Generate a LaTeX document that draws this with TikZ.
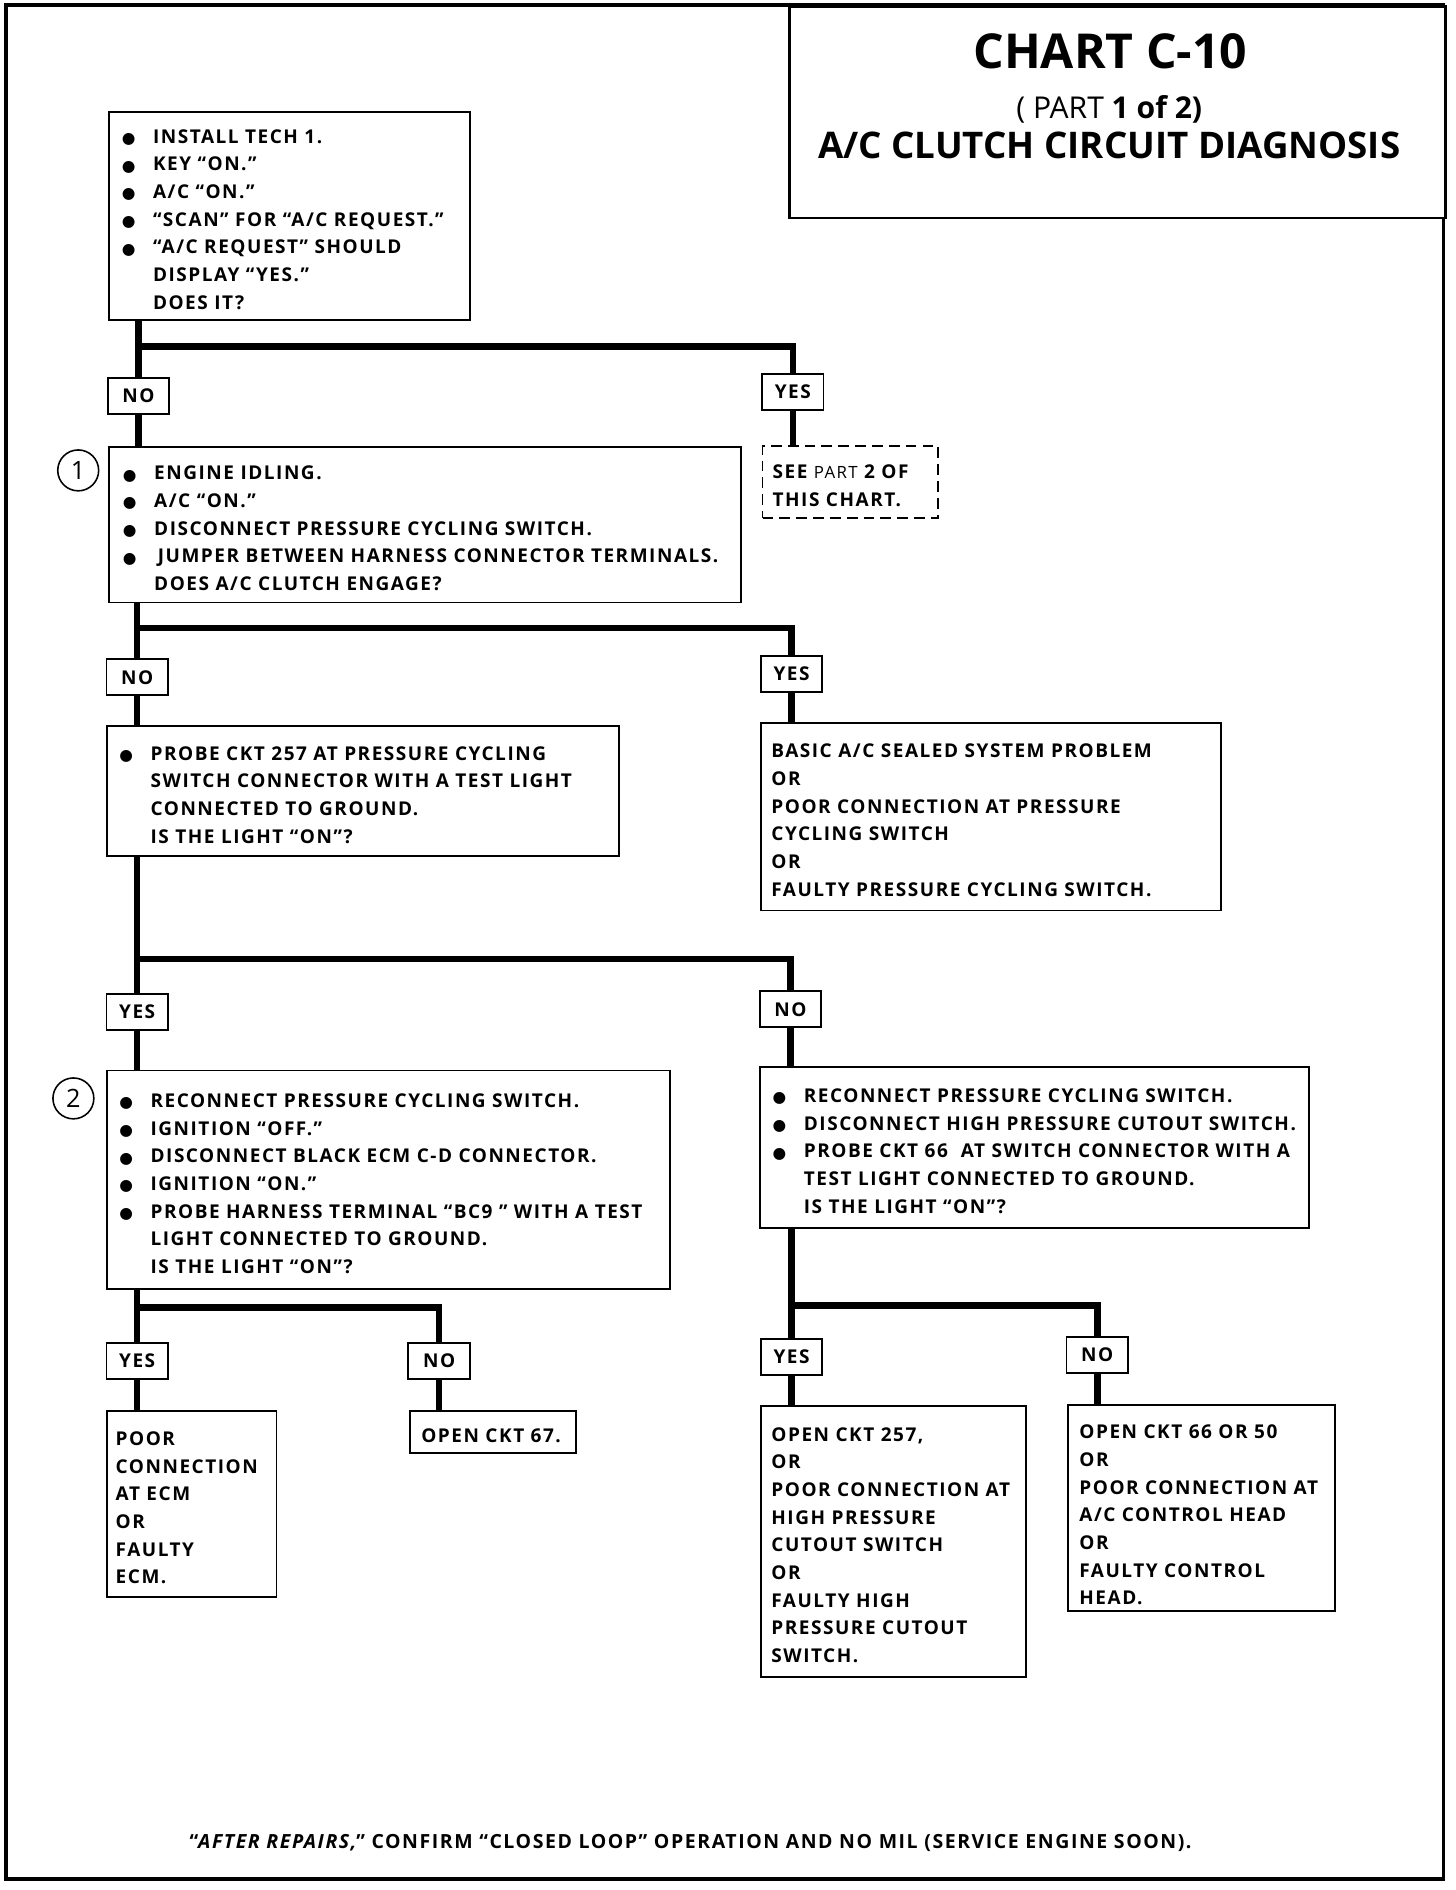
\documentclass[tikz,border=0pt]{standalone}
\usepackage{fontspec}
\setmainfont{Open Sans}
\newfontfamily\bodyfont{Open Sans}[LetterSpace=8]
\newfontfamily\titlefont{Open Sans}
\newfontfamily\dvsym{DejaVu Sans}
\usetikzlibrary{backgrounds}
\newcommand\bulx{\makebox[26pt][l]{\raisebox{-0.3pt}{\dvsym\fontsize{13}{13}\selectfont ●}}}
\newcommand\contind{\hspace*{26pt}}
\begin{document}
\begin{tikzpicture}[x=1pt,y=-1pt,
  box/.style={draw, line width=1.6pt, fill=white, anchor=north west, inner sep=0pt},
  dbox/.style={box, dash pattern=on 9pt off 5pt},
  txt/.style={anchor=west, inner sep=0pt, yshift=-3pt, align=left, font=\bodyfont\bfseries\fontsize{15.8}{23}\selectfont},
  lbl/.style={draw, line width=1.6pt, fill=white, minimum width=51pt, minimum height=30pt, inner sep=0pt, font=\bodyfont\bfseries\fontsize{15.8}{23}\selectfont},
  conn/.style={line width=5.5pt},
  num/.style={circle, draw, line width=1.3pt, minimum size=34pt, inner sep=0pt, font=\titlefont\fontsize{21}{21}\selectfont}]
\useasboundingbox (0,0) rectangle (1210,1571);
% frame and title box
\draw[line width=3pt] (5,4) rectangle (1200,1562);
\node[box, line width=2.4pt, minimum width=545pt, minimum height=176pt] (T) at (655,4) {};
\node[font=\titlefont\bfseries\fontsize{40}{40}\selectfont] (t1) at (923,43) {CHART C-10};
\node[font=\titlefont\fontsize{25}{25}\selectfont] (t2) at (922,91) {( PART {\bfseries 1 of 2)}};
\node[font=\titlefont\bfseries\fontsize{30.5}{30.5}\selectfont] (t3) at (922,121) {A/C CLUTCH CIRCUIT DIAGNOSIS};

% boxes
\node[box, minimum width=300pt, minimum height=173pt] (A) at (90,92) {};
\node[txt] (At) at ([xshift=11pt]A.west) {\bulx INSTALL TECH 1.\\ \bulx KEY “ON.”\\ \bulx A/C “ON.”\\ \bulx “SCAN” FOR “A/C REQUEST.”\\ \bulx “A/C REQUEST” SHOULD\\ \contind DISPLAY “YES.”\\ \contind DOES IT?};

\node[box, minimum width=525pt, minimum height=129pt] (B) at (90,371) {};
\node[txt] (Bt) at ([xshift=12pt]B.west) {\bulx ENGINE IDLING.\\ \bulx A/C “ON.”\\ \bulx DISCONNECT PRESSURE CYCLING SWITCH.\\ \bulx\hspace*{3pt}JUMPER BETWEEN HARNESS CONNECTOR TERMINALS.\\ \contind DOES A/C CLUTCH ENGAGE?};

\node[box, minimum width=426pt, minimum height=108pt] (C) at (88,603) {};
\node[txt] (Ct) at ([xshift=11pt]C.west) {\bulx PROBE CKT 257 AT PRESSURE CYCLING\\ \contind SWITCH CONNECTOR WITH A TEST LIGHT\\ \contind CONNECTED TO GROUND.\\ \contind IS THE LIGHT “ON”?};

\node[box, minimum width=382pt, minimum height=156pt] (D) at (632,600) {};
\node[txt] (Dt) at ([xshift=9pt]D.west) {BASIC A/C SEALED SYSTEM PROBLEM\\ OR\\ POOR CONNECTION AT PRESSURE\\ CYCLING SWITCH\\ OR\\ FAULTY PRESSURE CYCLING SWITCH.};

\node[box, minimum width=468pt, minimum height=182pt] (E) at (88,889) {};
\node[txt] (Et) at ([xshift=11pt]E.west) {\bulx RECONNECT PRESSURE CYCLING SWITCH.\\ \bulx IGNITION “OFF.”\\ \bulx DISCONNECT BLACK ECM C-D CONNECTOR.\\ \bulx IGNITION “ON.”\\ \bulx PROBE HARNESS TERMINAL “BC9 ” WITH A TEST\\ \contind LIGHT CONNECTED TO GROUND.\\ \contind IS THE LIGHT “ON”?};

\node[box, minimum width=456pt, minimum height=134pt] (F) at (631,886) {};
\node[txt] (Ft) at ([xshift=11pt]F.west) {\bulx RECONNECT PRESSURE CYCLING SWITCH.\\ \bulx DISCONNECT HIGH PRESSURE CUTOUT SWITCH.\\ \bulx PROBE CKT 66\ \ AT SWITCH CONNECTOR WITH A\\ \contind TEST LIGHT CONNECTED TO GROUND.\\ \contind IS THE LIGHT “ON”?};

\node[box, minimum width=141pt, minimum height=155pt] (G) at (88,1172) {};
\node[txt] (Gt) at ([xshift=8pt]G.west) {POOR\\ CONNECTION\\ AT ECM\\ OR\\ FAULTY\\ ECM.};

\node[box, minimum width=138pt, minimum height=35pt] (H) at (340,1172) {};
\node[txt] (Ht) at ([xshift=10pt]H.west) {OPEN CKT 67.};

\node[box, minimum width=220pt, minimum height=225pt] (I) at (632,1168) {};
\node[txt] (It) at ([xshift=9pt]I.west) {OPEN CKT 257,\\ OR\\ POOR CONNECTION AT\\ HIGH PRESSURE\\ CUTOUT SWITCH\\ OR\\ FAULTY HIGH\\ PRESSURE CUTOUT\\ SWITCH.};

\node[box, minimum width=222pt, minimum height=171pt] (J) at (887,1167) {};
\node[txt, yshift=-3pt] (Jt) at ([xshift=10pt]J.west) {OPEN CKT 66 OR 50\\ OR\\ POOR CONNECTION AT\\ A/C CONTROL HEAD\\ OR\\ FAULTY CONTROL\\ HEAD.};

\node[dbox, minimum width=146pt, minimum height=60pt] (K) at (633,370) {};
\node[txt] (Kt) at ([xshift=9pt]K.west) {SEE {\mdseries\fontsize{14}{23}\selectfont PART} 2 OF\\ THIS CHART.};

% step numbers
\node[num] (n1) at (65,391) {1};
\node[num] (n2) at (61,913) {2};

% labels
\node[lbl] (NO1) at (115,329) {NO};
\node[lbl] (YES1) at (659,326) {YES};
\node[lbl] (NO2) at (114,563) {NO};
\node[lbl] (YES2) at (658,560) {YES};
\node[lbl] (YES3) at (114,841) {YES};
\node[lbl] (NO3) at (657,839) {NO};
\node[lbl] (YES4) at (114,1131) {YES};
\node[lbl] (NO4) at (365,1131) {NO};
\node[lbl] (YES5) at (658,1128) {YES};
\node[lbl] (NO5) at (912,1126) {NO};

% footer
\node[font=\bodyfont\bfseries\fontsize{16.2}{16.2}\selectfont] (ft) at (574,1532) {“{\itshape AFTER REPAIRS,}” CONFIRM “CLOSED LOOP” OPERATION AND NO MIL (SERVICE ENGINE SOON).};

% connectors
\coordinate (j1) at (115,288);
\coordinate (j2) at (114,522);
\coordinate (j3) at (114,797);
\coordinate (j4) at (114,1087);
\coordinate (j5) at (658,1085);
\begin{scope}[on background layer]
\fill[white] (0,0) rectangle (1210,1571);
\draw[conn] (A.south -| NO1) -- (NO1.north);
\draw[conn] (j1) -| (YES1.north);
\draw[conn] (NO1.south) -- (B.north -| NO1);
\draw[conn] (YES1.south) -- (K.north -| YES1);
\draw[conn] (B.south -| NO2) -- (NO2.north);
\draw[conn] (j2) -| (YES2.north);
\draw[conn] (NO2.south) -- (C.north -| NO2);
\draw[conn] (YES2.south) -- (D.north -| YES2);
\draw[conn] (C.south -| YES3) -- (YES3.north);
\draw[conn] (j3) -| (NO3.north);
\draw[conn] (YES3.south) -- (E.north -| YES3);
\draw[conn] (NO3.south) -- (F.north -| NO3);
\draw[conn] (E.south -| YES4) -- (YES4.north);
\draw[conn] (j4) -| (NO4.north);
\draw[conn] (YES4.south) -- (G.north -| YES4);
\draw[conn] (NO4.south) -- (H.north -| NO4);
\draw[conn] (F.south -| YES5) -- (YES5.north);
\draw[conn] (j5) -| (NO5.north);
\draw[conn] (YES5.south) -- (I.north -| YES5);
\draw[conn] (NO5.south) -- (J.north -| NO5);
\end{scope}
\end{tikzpicture}
\end{document}
